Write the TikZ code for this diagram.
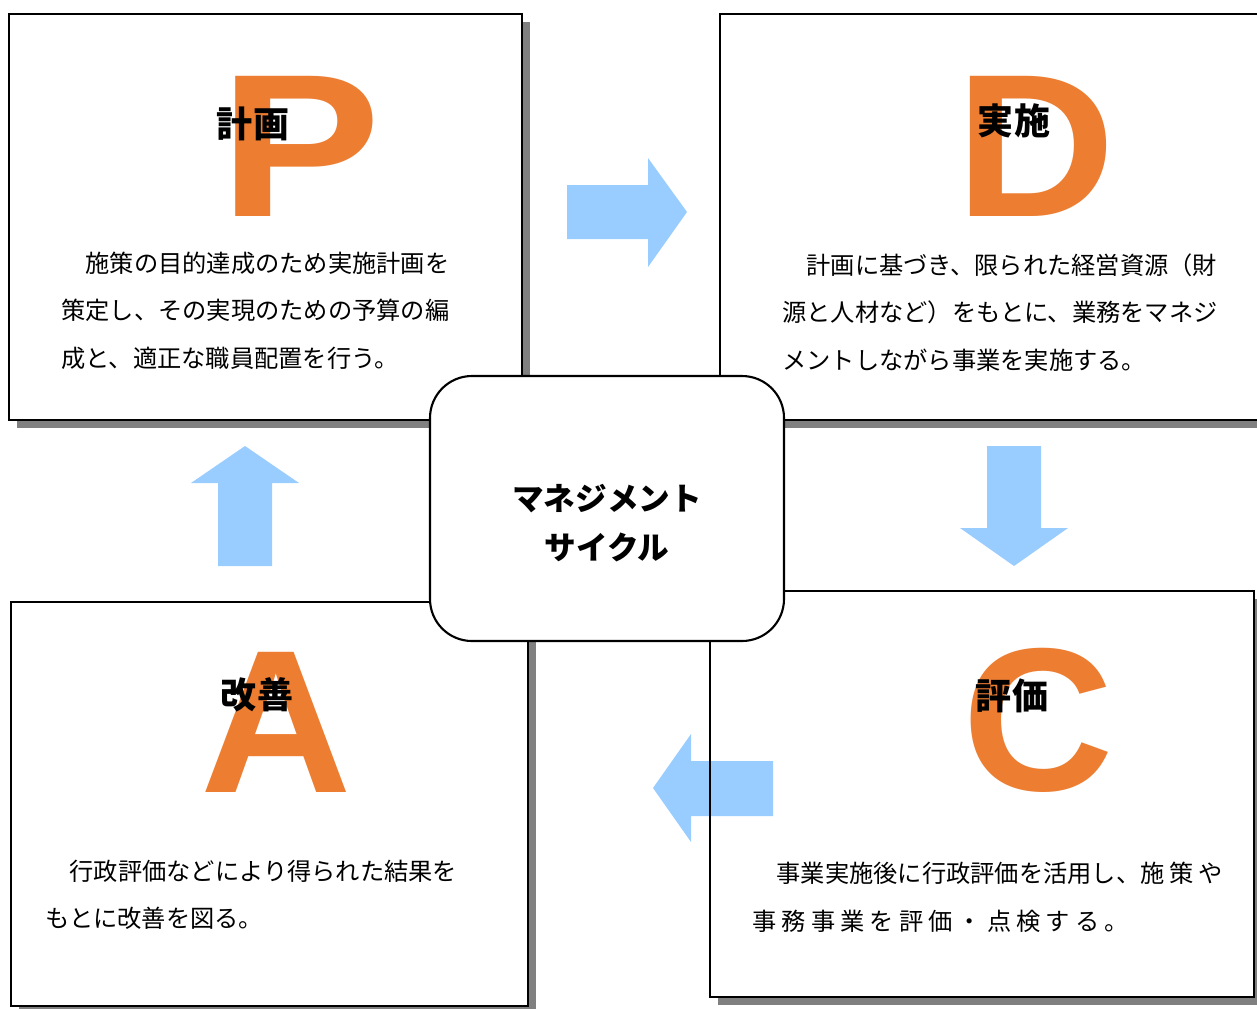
\documentclass[tikz,border=0pt]{standalone}
\usepackage{fontspec}
\setmainfont{Liberation Sans}
\newfontfamily\jpfont{Noto Sans CJK JP}
\newfontfamily\bigletterfont{Liberation Sans}
\definecolor{letterorange}{HTML}{ED7D31}
\definecolor{arrowblue}{HTML}{99CCFF}
\definecolor{shadowgray}{HTML}{808080}
\newcommand\wgap{\hspace{2.9pt}}
\begin{document}
\begin{tikzpicture}[x=0.02cm,y=-0.02cm,
  shadowfill/.style={fill=shadowgray,draw=none},
  boxfill/.style={fill=white,draw=none},
  boxline/.style={draw=black,line width=1.2pt},
  blockarrow/.style={fill=arrowblue,draw=none},
  bigletter/.style={text=letterorange,font=\bigletterfont\bfseries\fontsize{116}{116}\selectfont,inner sep=0pt,anchor=base},
  titletext/.style={font=\jpfont\bfseries\fontsize{20.5}{24}\selectfont,inner sep=0pt},
  bodytext/.style={font=\jpfont\fontsize{13.8}{26}\selectfont,inner sep=0pt,anchor=base west},
  centertext/.style={font=\jpfont\bfseries\fontsize{18}{28}\selectfont,align=center,inner sep=0pt},
  cycbox/.style={draw=black,line width=1.2pt,fill=white,rounded corners=0.84cm}]
\useasboundingbox (0,0) rectangle (1257,1008);
\clip (0,0) rectangle (1257,1008);
% box corners
\coordinate (P1) at (9,14);   \coordinate (P2) at (522,420);
\coordinate (D1) at (720,14); \coordinate (D2) at (1275,420);
\coordinate (A1) at (11,602); \coordinate (A2) at (528,1006);
\coordinate (C1) at (710,591);\coordinate (C2) at (1254,997);
% shadows
\foreach \a/\b in {P1/P2,D1/D2,A1/A2,C1/C2}{
  \fill[shadowgray] ([shift={(8,8)}]\a) rectangle ([shift={(8,8)}]\b);
}
% white box faces
\foreach \a/\b in {P1/P2,D1/D2,A1/A2,C1/C2}{
  \fill[white] (\a) rectangle (\b);
}
% block arrows
\fill[blockarrow] (567,185) -- (648,185) -- (648,158) -- (687,212) -- (648,267) -- (648,239) -- (567,239) -- cycle;
\fill[blockarrow] (987,446) -- (1041,446) -- (1041,528) -- (1068,528) -- (1014,566) -- (960,528) -- (987,528) -- cycle;
\fill[blockarrow] (773,761) -- (773,816) -- (691,816) -- (691,842) -- (653,788) -- (691,734) -- (691,761) -- cycle;
\fill[blockarrow] (218,566) -- (272,566) -- (272,483) -- (299,483) -- (245,446) -- (191,483) -- (218,483) -- cycle;
% box borders
\foreach \a/\b in {P1/P2,D1/D2,A1/A2,C1/C2}{
  \draw[boxline] (\a) rectangle (\b);
}
% big letters
\node[bigletter,xscale=1.19] (bigP) at (300,216) {P};
\node[bigletter,xscale=1.09] (bigD) at (1036,216) {D};
\node[bigletter,xscale=1.03] (bigC) at (1038,790) {C};
\node[bigletter,xscale=1.03] (bigA) at (276,792) {A};
% titles
\node[titletext] (tP) at (253,124) {計画};
\node[titletext] (tD) at (1014,121) {実施};
\node[titletext] (tC) at (1012,696) {評価};
\node[titletext] (tA) at (257,695) {改善};
% body texts
\node[bodytext] (p1) at (61,272) {　施策の目的達成のため実施計画を};
\node[bodytext] (p2) at (61,319) {策定し、その実現のための予算の編};
\node[bodytext] (p3) at (61,367) {成と、適正な職員配置を行う。};
\node[bodytext] (d1) at (782,274) {　計画に基づき、限られた経営資源（財};
\node[bodytext] (d2) at (782,321) {源と人材など）をもとに、業務をマネジ};
\node[bodytext] (d3) at (782,369) {メントしながら事業を実施する。};
\node[bodytext] (c1) at (752,882) {　事業実施後に行政評価を活用し、施\wgap 策\wgap や};
\node[bodytext] (c2) at (752,930) {事\wgap 務\wgap 事\wgap 業\wgap を\wgap 評\wgap 価\wgap ・\wgap 点\wgap 検\wgap す\wgap る\wgap 。};
\node[bodytext] (a1) at (45,880) {　行政評価などにより得られた結果を};
\node[bodytext] (a2) at (45,927) {もとに改善を図る。};
% centre
\draw[cycbox] (430,376) rectangle (784,641);
\node[centertext] (cyc) at (607,523) {マネジメント\\サイクル};
\end{tikzpicture}
\end{document}
